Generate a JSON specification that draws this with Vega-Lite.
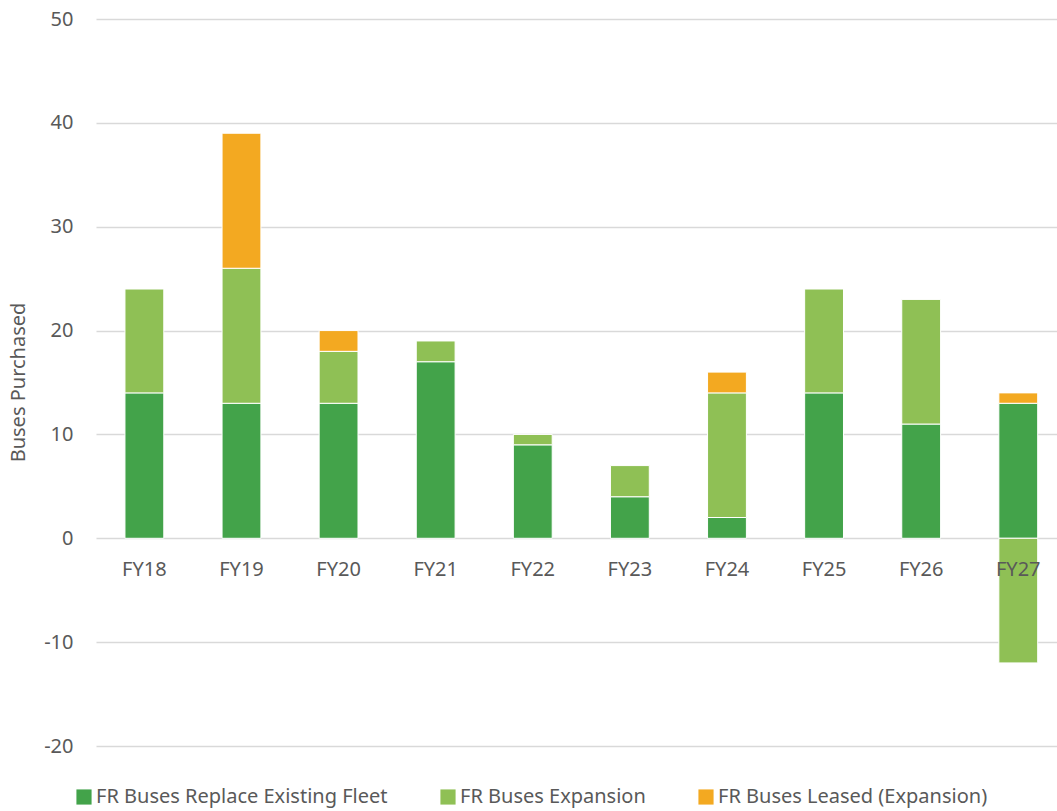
{
  "$schema": "https://vega.github.io/schema/vega-lite/v6.json",
  "autosize": {"type": "none"},
  "padding": {"left": 96, "top": 19, "right": 0, "bottom": 65},
  "width": 961,
  "height": 727,
  "background": "white",
  "config": {
    "view": {"stroke": null},
    "font": "Noto Sans"
  },
  "data": {
    "values": [
      {"fy": "FY18", "series": "FR Buses Replace Existing Fleet", "buses": 14},
      {"fy": "FY18", "series": "FR Buses Expansion", "buses": 10},
      {"fy": "FY19", "series": "FR Buses Replace Existing Fleet", "buses": 13},
      {"fy": "FY19", "series": "FR Buses Expansion", "buses": 13},
      {"fy": "FY19", "series": "FR Buses Leased (Expansion)", "buses": 13},
      {"fy": "FY20", "series": "FR Buses Replace Existing Fleet", "buses": 13},
      {"fy": "FY20", "series": "FR Buses Expansion", "buses": 5},
      {"fy": "FY20", "series": "FR Buses Leased (Expansion)", "buses": 2},
      {"fy": "FY21", "series": "FR Buses Replace Existing Fleet", "buses": 17},
      {"fy": "FY21", "series": "FR Buses Expansion", "buses": 2},
      {"fy": "FY22", "series": "FR Buses Replace Existing Fleet", "buses": 9},
      {"fy": "FY22", "series": "FR Buses Expansion", "buses": 1},
      {"fy": "FY23", "series": "FR Buses Replace Existing Fleet", "buses": 4},
      {"fy": "FY23", "series": "FR Buses Expansion", "buses": 3},
      {"fy": "FY24", "series": "FR Buses Replace Existing Fleet", "buses": 2},
      {"fy": "FY24", "series": "FR Buses Expansion", "buses": 12},
      {"fy": "FY24", "series": "FR Buses Leased (Expansion)", "buses": 2},
      {"fy": "FY25", "series": "FR Buses Replace Existing Fleet", "buses": 14},
      {"fy": "FY25", "series": "FR Buses Expansion", "buses": 10},
      {"fy": "FY26", "series": "FR Buses Replace Existing Fleet", "buses": 11},
      {"fy": "FY26", "series": "FR Buses Expansion", "buses": 12},
      {"fy": "FY27", "series": "FR Buses Replace Existing Fleet", "buses": 13},
      {"fy": "FY27", "series": "FR Buses Expansion", "buses": -12},
      {"fy": "FY27", "series": "FR Buses Leased (Expansion)", "buses": 1}
    ]
  },
  "transform": [
    {"calculate": "indexof(['FR Buses Replace Existing Fleet', 'FR Buses Expansion', 'FR Buses Leased (Expansion)'], datum.series)", "as": "stackorder"}
  ],
  "mark": {"type": "bar", "stroke": "white", "strokeWidth": 1},
  "encoding": {
    "x": {
      "field": "fy",
      "type": "nominal",
      "sort": null,
      "scale": {"paddingInner": 0.6, "paddingOuter": 0.2485, "align": 0.6},
      "axis": {
        "title": null,
        "labelAngle": 0,
        "labelFontSize": 20,
        "labelColor": "#595959",
        "labelPadding": 20,
        "domain": false,
        "ticks": false,
        "grid": false,
        "offset": -207,
        "zindex": 1
      }
    },
    "y": {
      "field": "buses",
      "type": "quantitative",
      "stack": "zero",
      "scale": {"domain": [-20, 50], "nice": false, "zero": false},
      "axis": {
        "title": "Buses Purchased",
        "values": [-20, -10, 0, 10, 20, 30, 40, 50],
        "labelExpr": "toString(datum.value)",
        "labelFontSize": 20,
        "labelColor": "#595959",
        "labelPadding": 23,
        "domain": false,
        "ticks": false,
        "grid": true,
        "gridColor": "#D9D9D9",
        "gridWidth": 1.5,
        "titleFontSize": 20,
        "titleFontWeight": "normal",
        "titleColor": "#595959",
        "titleX": -78,
        "titleY": 363,
        "titleAngle": -90,
        "titleAlign": "center",
        "titleBaseline": "middle"
      }
    },
    "color": {
      "field": "series",
      "type": "nominal",
      "sort": ["FR Buses Replace Existing Fleet", "FR Buses Expansion", "FR Buses Leased (Expansion)"],
      "scale": {
        "domain": ["FR Buses Replace Existing Fleet", "FR Buses Expansion", "FR Buses Leased (Expansion)"],
        "range": ["#43A34A", "#8FC055", "#F3A921"]
      },
      "legend": {
        "title": null,
        "orient": "none",
        "direction": "horizontal",
        "legendX": -22,
        "legendY": 768,
        "symbolType": "square",
        "symbolSize": 230,
        "symbolStrokeWidth": 0,
        "labelFontSize": 20,
        "labelColor": "#595959",
        "labelOffset": 2,
        "columnPadding": 50,
        "labelLimit": 400
      }
    },
    "order": {"field": "stackorder", "type": "quantitative", "sort": "ascending"}
  }
}
